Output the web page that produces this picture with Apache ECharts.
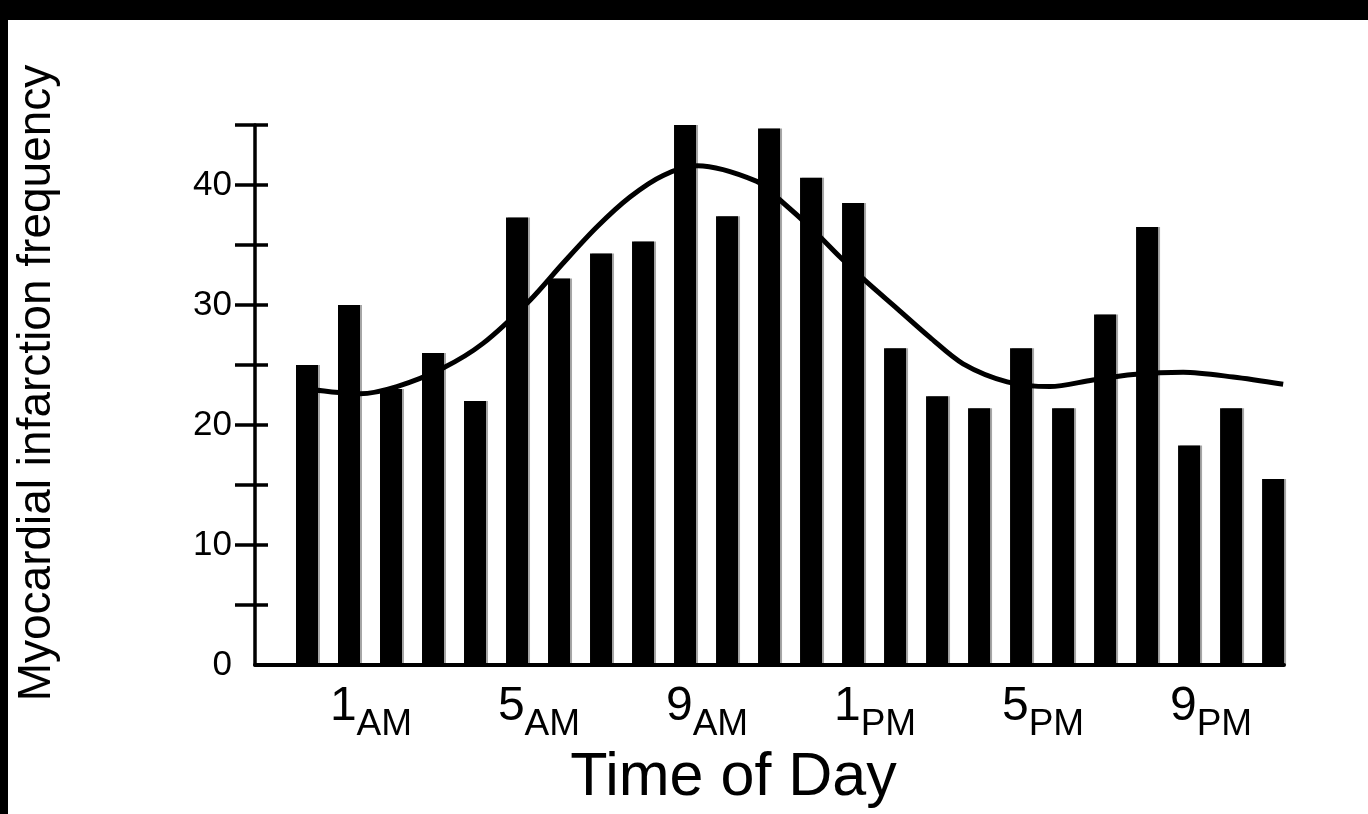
<!DOCTYPE html>
<html>
<head>
<meta charset="utf-8">
<script src="https://cdn.jsdelivr.net/npm/echarts@6/dist/echarts.min.js"></script>
<style>
html,body{margin:0;padding:0;background:#fff;}
#c{width:1368px;height:814px;}
</style>
</head>
<body>
<div id="c"></div>
<script>
// Hour of day (0 = midnight) for each bar
const hours = [0,1,2,3,4,5,6,7,8,9,10,11,12,13,14,15,16,17,18,19,20,21,22,23];
// Myocardial infarction frequency per hour
const frequency = [25,30,23,26,22,37.3,32.2,34.3,35.3,45.5,37.4,44.7,40.6,38.5,26.4,22.4,21.4,26.4,21.4,29.2,36.5,18.3,21.4,15.5];
// Fitted curve: hour positions and values
const curveHours = [0,1.26,2.14,3.24,4.19,5.31,6.1,6.9,7.69,8.48,9.29,10.71,11.26,12.05,12.69,13.33,14.05,14.83,15.62,16.67,17.69,18.71,19.67,20.86,22.05,23.24];
const curveValues = [23.0,22.6,23.2,24.75,26.8,30.4,33.5,36.5,39,40.8,41.6,40.3,38.75,36.25,34,31.9,29.7,27.3,25.1,23.6,23.2,23.75,24.2,24.4,24.0,23.4];
// X tick labels
const tickHours = [1,5,9,13,17,21];
const tickNumbers = ['1','5','9','1','5','9'];
const tickSuffix = ['AM','AM','AM','PM','PM','PM'];
// Y ticks / labels
const yTicks = [5,10,15,20,25,30,35,40,45];
const yLabels = [0,10,20,30,40];

const FONT = '"Liberation Sans", Arial, Helvetica, sans-serif';
const chart = echarts.init(document.getElementById('c'), null, {renderer:'canvas'});

const barData = hours.map((h,i)=>[h, frequency[i]]);
const lineData = curveHours.map((h,i)=>[h, curveValues[i]]);

chart.setOption({
  backgroundColor:'#fff',
  animation:false,
  graphic:[
    {type:'rect', left:0, top:0, shape:{width:1368, height:20}, style:{fill:'#000'}, z:100},
    {type:'rect', left:0, top:0, shape:{width:8, height:814}, style:{fill:'#000'}, z:100}
  ],
  grid:{left:255, right:84, top:125, bottom:149, containLabel:false, outerBoundsMode:'none'},
  xAxis:{
    type:'value', min:-1.238, max:23.26,
    splitLine:{show:false},
    axisTick:{show:false},
    axisLine:{show:true, onZero:false, lineStyle:{color:'#000', width:4}},
    axisLabel:{
      customValues: tickHours,
      margin:18,
      formatter:function(v){
        const i = tickHours.indexOf(Math.round(v));
        if(i<0) return '';
        return '{sp|}{n|'+tickNumbers[i]+'}{s|'+tickSuffix[i]+'}';
      },
      rich:{
        sp:{width:44, lineHeight:60},
        n:{fontFamily:FONT, fontSize:48, lineHeight:48, verticalAlign:'top', color:'#000'},
        s:{fontFamily:FONT, fontSize:37, lineHeight:37, verticalAlign:'bottom', color:'#000'}
      }
    },
    name:'Time of Day',
    nameLocation:'middle',
    nameGap:78,
    nameTextStyle:{fontFamily:FONT, fontSize:61, color:'#000', padding:[0,72,0,0]}
  },
  yAxis:[{
    type:'value', min:0, max:45, interval:5,
    splitLine:{show:false},
    axisLine:{show:true, onZero:false, lineStyle:{color:'#000', width:3.5}},
    axisTick:{show:true, customValues:yTicks, length:20, inside:false, lineStyle:{color:'#000', width:3.5}},
    axisLabel:{customValues:yLabels, margin:23, fontFamily:FONT, fontSize:35, color:'#000'},
    name:'Myocardial infarction frequency',
    nameLocation:'middle',
    nameGap:195,
    nameTextStyle:{fontFamily:FONT, fontSize:46, color:'#000', padding:[0,0,0,24]}
  },{
    type:'value', min:0, max:45, interval:5, position:'left',
    splitLine:{show:false},
    axisLine:{show:false, onZero:false},
    axisTick:{show:true, customValues:yTicks, length:13, inside:true, lineStyle:{color:'#000', width:3.5}},
    axisLabel:{show:false}
  }],
  series:[{
    type:'bar',
    data:barData,
    barWidth:22,
    itemStyle:{color:'#000', shadowColor:'rgba(0,0,0,0.35)', shadowOffsetX:2, shadowBlur:0},
    z:2
  },{
    type:'line',
    data:lineData,
    smooth:0.3,
    symbol:'none',
    lineStyle:{color:'#000', width:5},
    z:3
  }]
});
</script>
</body>
</html>
